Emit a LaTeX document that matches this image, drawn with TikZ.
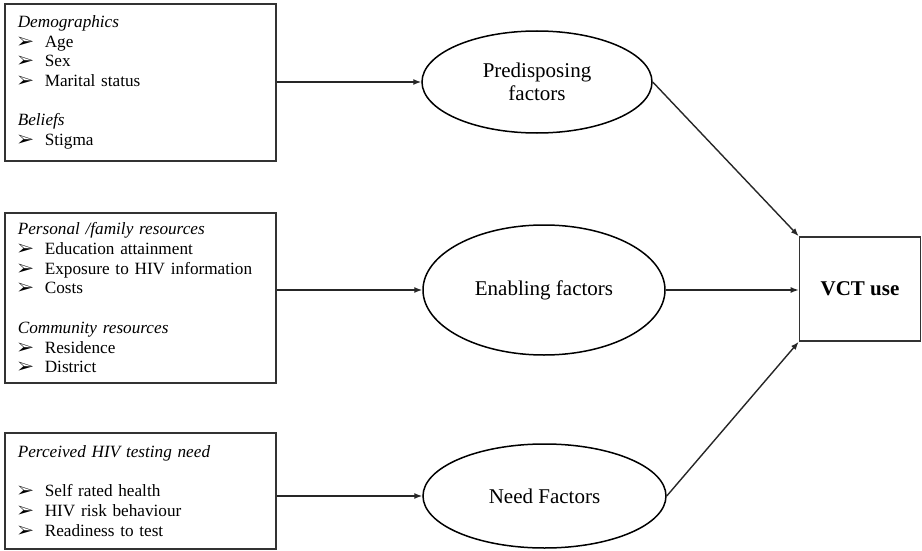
\documentclass[tikz,border=0pt]{standalone}
\usepackage{fontspec}
\setmainfont{Liberation Serif}
\usepackage{pifont}
\usepackage{tikz}
\usetikzlibrary{shapes.geometric,arrows.meta,positioning}

\newcommand{\bul}[1]{\makebox[27pt][l]{\ding{226}}#1}

\tikzset{
  factorbox/.style={rectangle, draw, line width=1.6pt, draw=black!80, minimum width=271pt, text width=245pt, align=left, inner xsep=13pt, anchor=north west, font=\fontsize{17.2}{19.7}\selectfont},
  factorell/.style={ellipse, draw, line width=1.5pt, align=center, font=\fontsize{21}{23}\selectfont},
  link/.style={-{Latex[length=8pt,width=6pt]}, line width=1.4pt, draw=black!85}
}

\begin{document}
\begin{tikzpicture}[x=1pt,y=-1pt]
  \useasboundingbox (0,0) rectangle (922,551);

  % left boxes
  \node[factorbox, minimum height=157pt] (demo) at (4,3) {
    \textit{Demographics}\\
    \bul{Age}\\
    \bul{Sex}\\
    \bul{Marital status}\\[19.7pt]
    \textit{Beliefs}\\
    \bul{Stigma}};
  \node[factorbox, minimum height=170pt] (res) at (4,212) {
    \textit{Personal /family resources}\\
    \bul{Education attainment}\\
    \bul{Exposure to HIV information}\\
    \bul{Costs}\\[19.7pt]
    \textit{Community resources}\\
    \bul{Residence}\\
    \bul{District}};
  \node[factorbox, minimum height=116pt] (need) at (4,432) {
    \textit{Perceived HIV testing need}\\[19.7pt]
    \bul{Self rated health}\\
    \bul{HIV risk behaviour}\\
    \bul{Readiness to test}};

  % factor ellipses
  \node[factorell, minimum width=230pt, minimum height=102pt] (pre) at (537,82) {Predisposing\\factors};
  \node[factorell, minimum width=242pt, minimum height=130pt] (ena) at (544,290) {Enabling factors};
  \node[factorell, minimum width=243pt, minimum height=104pt] (nee) at (544.5,496) {Need Factors};

  % outcome
  \node[rectangle, draw, line width=1.6pt, draw=black!80, minimum width=121pt, minimum height=104pt, font=\bfseries\fontsize{21}{23}\selectfont] (vct) at (860,289) {VCT use};

  \draw[link] (demo.east |- pre.west) -- (pre.west);
  \draw[link] (res.east |- ena.west) -- (ena.west);
  \draw[link] (need.east |- nee.west) -- (nee.west);
  \draw[link] (pre.east) -- (vct.north west);
  \draw[link] (ena.east) -- (vct.west |- ena.east);
  \draw[link] (nee.east) -- (vct.south west);
\end{tikzpicture}
\end{document}
